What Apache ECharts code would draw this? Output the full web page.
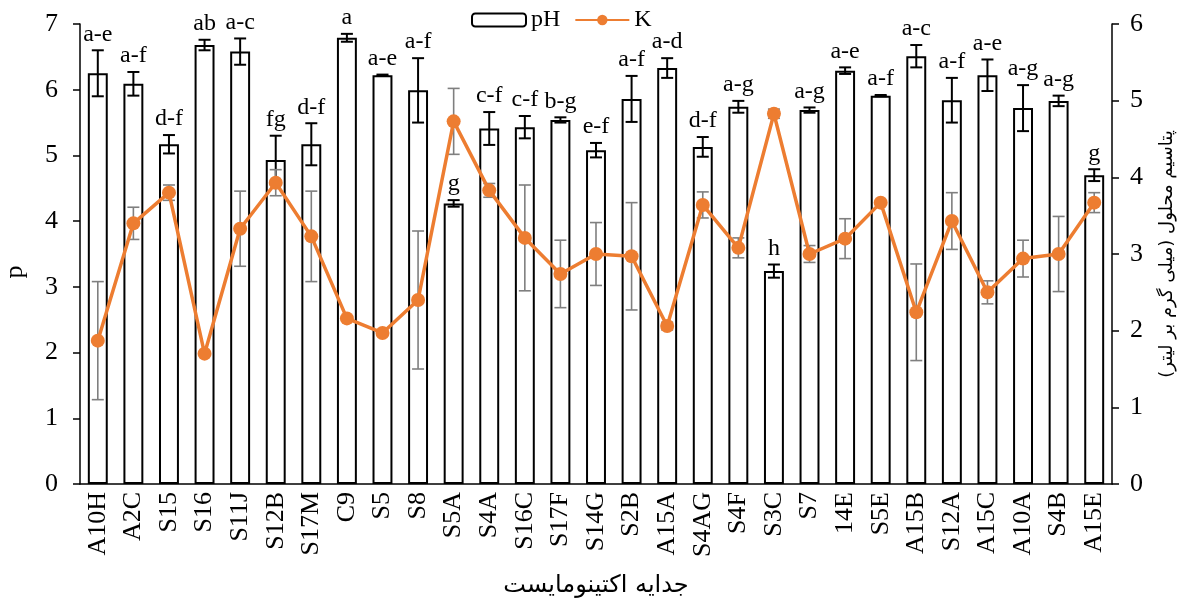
<!DOCTYPE html>
<html>
<head>
<meta charset="utf-8">
<script src="https://cdn.jsdelivr.net/npm/echarts@6/dist/echarts.min.js"></script>
<style>
  html, body { margin: 0; padding: 0; background: #fff; }
  #chart { width: 1197px; height: 602px; }
</style>
</head>
<body>
<div id="chart"></div>
<script>
// Isolates on the x axis
const categories = ['A10H','A2C','S15','S16','S11J','S12B','S17M','C9','S5','S8','S5A','S4A','S16C','S17F','S14G','S2B','A15A','S4AG','S4F','S3C','S7','14E','S5E','A15B','S12A','A15C','A10A','S4B','A15E'];

// pH (left axis): means, standard errors and mean-separation letters
const phMean = [6.25, 6.09, 5.17, 6.68, 6.58, 4.93, 5.17, 6.79, 6.22, 5.99, 4.27, 5.41, 5.43, 5.54, 5.08, 5.86, 6.33, 5.13, 5.74, 3.24, 5.69, 6.29, 5.91, 6.51, 5.84, 6.22, 5.72, 5.83, 4.70];
const phErr  = [0.35, 0.18, 0.14, 0.08, 0.20, 0.37, 0.32, 0.06, 0.01, 0.49, 0.05, 0.25, 0.17, 0.04, 0.11, 0.35, 0.15, 0.15, 0.09, 0.10, 0.04, 0.05, 0.01, 0.17, 0.34, 0.24, 0.35, 0.08, 0.09];
const phLetters = ['a-e','a-f','d-f','ab','a-c','fg','d-f','a','a-e','a-f','g','c-f','c-f','b-g','e-f','a-f','a-d','d-f','a-g','h','a-g','a-e','a-f','a-c','a-f','a-e','a-g','a-g','g'];

// Soluble potassium K (right axis): means and standard errors
const kMean = [1.87, 3.40, 3.80, 1.70, 3.33, 3.93, 3.23, 2.16, 1.97, 2.40, 4.73, 3.83, 3.21, 2.74, 3.00, 2.97, 2.06, 3.64, 3.08, 4.83, 3.00, 3.20, 3.67, 2.24, 3.43, 2.50, 2.94, 3.00, 3.67];
const kErr  = [0.77, 0.21, 0.10, 0.00, 0.49, 0.17, 0.59, 0.00, 0.00, 0.90, 0.43, 0.09, 0.69, 0.44, 0.41, 0.70, 0.05, 0.17, 0.13, 0.06, 0.11, 0.26, 0.00, 0.63, 0.37, 0.15, 0.24, 0.49, 0.13];

// Axis ticks and titles
const leftTicks = { min: 0, max: 7, interval: 1 };
const rightTicks = { min: 0, max: 6, interval: 1 };
const xTitle = 'جدایه اکتینومایست';
const leftTitle = 'p';
const rightTitle = 'پتاسیم محلول (میلی گرم بر لیتر)';

const serif = '"Liberation Serif", "Times New Roman", serif';
const persian = '"DejaVu Sans", sans-serif';

const phErrData = categories.map((c, i) => [i, phMean[i] + phErr[i], phMean[i] - phErr[i]]);
const kErrData = categories.map((c, i) => [i, kMean[i] + kErr[i], kMean[i] - kErr[i]]);

// Error bar with caps; the pH bars also carry their letter group above the cap
function errorBars(color, width, withLabel) {
  return function (params, api) {
    const i = api.value(0);
    const hi = api.coord([i, api.value(1)]);
    const lo = api.coord([i, api.value(2)]);
    const cap = 6;
    const style = { stroke: color, lineWidth: width };
    const children = [
      { type: 'line', shape: { x1: hi[0], y1: hi[1], x2: lo[0], y2: lo[1] }, style },
      { type: 'line', shape: { x1: hi[0] - cap, y1: hi[1], x2: hi[0] + cap, y2: hi[1] }, style },
      { type: 'line', shape: { x1: lo[0] - cap, y1: lo[1], x2: lo[0] + cap, y2: lo[1] }, style }
    ];
    if (withLabel) {
      children.push({
        type: 'text',
        style: {
          x: hi[0], y: hi[1] - 4,
          text: phLetters[i],
          fill: '#000',
          font: '24px ' + serif,
          align: 'center',
          verticalAlign: 'bottom'
        }
      });
    }
    return { type: 'group', children };
  };
}

const chart = echarts.init(document.getElementById('chart'), null, { renderer: 'canvas' });

chart.setOption({
  backgroundColor: '#fff',
  animation: false,
  textStyle: { fontFamily: serif, color: '#000' },
  grid: { left: 80, right: 85, top: 24, bottom: 118, outerBoundsMode: 'none', containLabel: false },
  legend: {
    top: 3,
    left: 466,
    itemWidth: 54,
    itemHeight: 13,
    itemGap: 14,
    textStyle: { fontFamily: serif, fontSize: 24, color: '#000' },
    data: ['pH', 'K']
  },
  xAxis: {
    type: 'category',
    data: categories,
    boundaryGap: true,
    axisLine: { lineStyle: { color: '#000', width: 1.5 } },
    axisTick: { show: false },
    axisLabel: { rotate: 90, fontFamily: serif, fontSize: 26, color: '#000', margin: 8, interval: 0 },
    name: xTitle,
    nameLocation: 'middle',
    nameGap: 90,
    nameTextStyle: { fontFamily: persian, fontSize: 24, color: '#000' }
  },
  yAxis: [
    {
      type: 'value',
      min: leftTicks.min, max: leftTicks.max, interval: leftTicks.interval,
      splitLine: { show: false },
      axisLine: { show: true, lineStyle: { color: '#000', width: 1.5 } },
      axisTick: { show: true, length: 7, lineStyle: { color: '#000', width: 1.5 } },
      axisLabel: { fontFamily: serif, fontSize: 26, color: '#000', margin: 22 },
      name: leftTitle,
      nameLocation: 'middle',
      nameRotate: 90,
      nameGap: 52,
      nameTextStyle: { fontFamily: serif, fontSize: 26, color: '#000', padding: [0, 36, 0, 0] }
    },
    {
      type: 'value',
      position: 'right',
      min: rightTicks.min, max: rightTicks.max, interval: rightTicks.interval,
      splitLine: { show: false },
      axisLine: { show: true, lineStyle: { color: '#000', width: 1.5 } },
      axisTick: { show: true, length: 7, lineStyle: { color: '#000', width: 1.5 } },
      axisLabel: { fontFamily: serif, fontSize: 26, color: '#000', margin: 18 },
      name: rightTitle,
      nameLocation: 'middle',
      nameRotate: 90,
      nameGap: 46,
      nameTextStyle: { fontFamily: persian, fontSize: 18, color: '#000' }
    }
  ],
  series: [
    {
      name: 'pH',
      type: 'bar',
      yAxisIndex: 0,
      data: phMean,
      barWidth: '56%',
      itemStyle: { color: '#fff', borderColor: '#000', borderWidth: 2 },
      z: 2
    },
    {
      name: 'pH-err',
      type: 'custom',
      yAxisIndex: 0,
      data: phErrData,
      encode: { x: 0, y: [1, 2] },
      renderItem: errorBars('#000', 2, true),
      z: 3,
      silent: true
    },
    {
      name: 'K-err',
      type: 'custom',
      yAxisIndex: 1,
      data: kErrData,
      encode: { x: 0, y: [1, 2] },
      renderItem: errorBars('#7f7f7f', 1.6, false),
      z: 4,
      silent: true
    },
    {
      name: 'K',
      type: 'line',
      yAxisIndex: 1,
      data: kMean,
      symbol: 'circle',
      symbolSize: 14,
      lineStyle: { color: '#ED7D31', width: 3.5 },
      itemStyle: { color: '#ED7D31' },
      z: 5
    }
  ]
});
</script>
</body>
</html>
